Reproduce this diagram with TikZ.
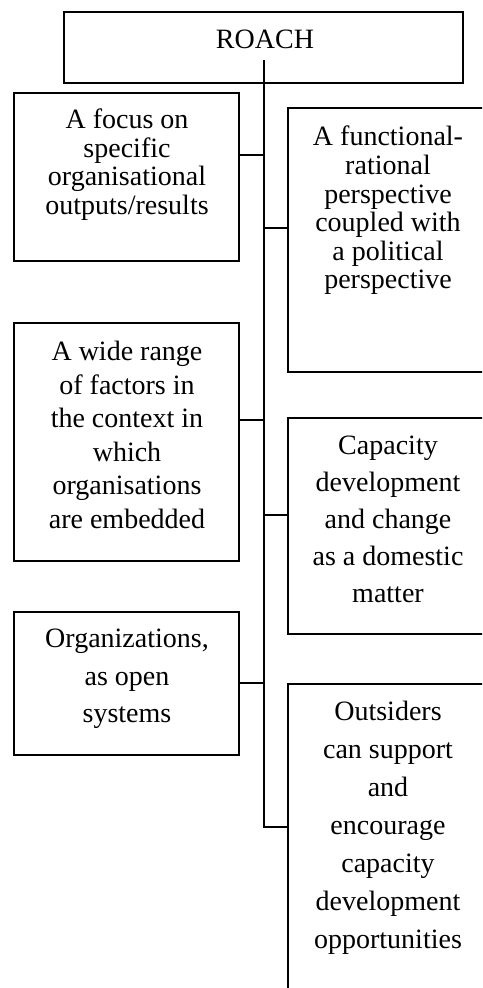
\documentclass[tikz,border=0pt]{standalone}
\usepackage{fontspec}
\setmainfont{Liberation Serif}
\begin{document}
\begin{tikzpicture}[x=1pt,y=1pt,
  box/.style={draw, line width=1.5pt, rectangle, inner sep=0pt, outer sep=0pt},
  txt/.style={anchor=north, align=center, inner sep=0pt, font=\fontsize{28}{#1}\selectfont},
  link/.style={line width=1.5pt}]
\useasboundingbox (0,0) rectangle (482,-988);
\clip (0,0) rectangle (482,-988);
% boxes
\node[box, minimum width=399, minimum height=71] (top) at (263.5,-47.5) {};
\node[box, minimum width=225, minimum height=168] (L1) at (126.5,-177) {};
\node[box, minimum width=225, minimum height=238] (L2) at (126.5,-442) {};
\node[box, minimum width=225, minimum height=143] (L3) at (126.5,-683.5) {};
\node[box, minimum width=200, minimum height=264] (R1) at (388,-240) {};
\node[box, minimum width=200, minimum height=216] (R2) at (388,-526) {};
\node[box, minimum width=200, minimum height=320] (R3) at (388,-844) {};
% texts
\node[anchor=base, inner sep=0pt, font=\fontsize{28}{30}\selectfont] (tt) at (265,-48) {ROACH};
\node[txt=28.5] (t1) at (127,-108.9) {A focus on\\specific\\organisational\\outputs/results};
\node[txt=33.6] (t2) at (127,-340.9) {A wide range\\of factors in\\the context in\\which\\organisations\\are embedded};
\node[txt=37.5] (t3) at (127,-628.9) {Organizations,\\as open\\systems};
\node[txt=28.6] (t4) at (388,-125.9) {A functional-\\rational\\perspective\\coupled with\\a political\\perspective};
\node[txt=37] (t5) at (388,-435.9) {Capacity\\development\\and change\\as a domestic\\matter};
\node[txt=38] (t6) at (388,-700.9) {Outsiders\\can support\\and\\encourage\\capacity\\development\\opportunities};
% trunk and connectors
\coordinate (ttop) at (264,-60);
\coordinate (tbot) at (264,-827);
\coordinate (c1) at (264,-155);
\coordinate (c2) at (264,-228);
\coordinate (c3) at (264,-420);
\coordinate (c4) at (264,-515);
\coordinate (c5) at (264,-683);
\draw[link] (ttop) -- (tbot) -- (R3.west |- tbot);
\draw[link] (L1.east |- c1) -- (c1);
\draw[link] (c2) -- (R1.west |- c2);
\draw[link] (L2.east |- c3) -- (c3);
\draw[link] (c4) -- (R2.west |- c4);
\draw[link] (L3.east |- c5) -- (c5);
\end{tikzpicture}
\end{document}
